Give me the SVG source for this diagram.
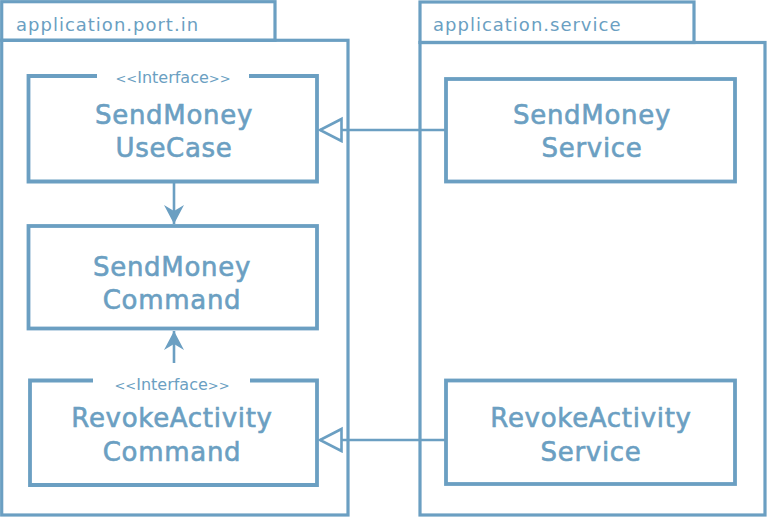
<svg xmlns="http://www.w3.org/2000/svg" width="768" height="518" viewBox="0 0 768 518">
<style>
.pkg{fill:none;stroke:#6b9fc2;stroke-width:3.2}
.box{fill:none;stroke:#6b9fc2;stroke-width:3.8}
.pl{font-family:"DejaVu Sans",sans-serif;font-size:18px;letter-spacing:1px;fill:#6b9fc2}
.st{font-family:"DejaVu Sans",sans-serif;font-size:16px;fill:#6b9fc2;text-anchor:middle}
.ch{font-size:13px}
.nm{font-family:"DejaVu Sans",sans-serif;font-size:26px;fill:#6b9fc2;stroke:#6b9fc2;stroke-width:0.6;text-anchor:middle;letter-spacing:0.7px}
.ln{fill:none;stroke:#6b9fc2;stroke-width:2.6}
</style>
<defs>
<marker id="tri" markerUnits="userSpaceOnUse" markerWidth="26" markerHeight="28" refX="23" refY="13" orient="auto" viewBox="0 0 26 28">
<path d="M1.5,2 L23,13 L1.5,24 Z" fill="#fff" stroke="#6b9fc2" stroke-width="2.6"/>
</marker>
<marker id="arr" markerUnits="userSpaceOnUse" markerWidth="20" markerHeight="20" refX="19" refY="10" orient="auto" viewBox="0 0 20 20">
<path d="M0,0 L19,10 L0,20 L6,10 Z" fill="#6b9fc2"/>
</marker>
</defs>
<g id="pkg-port-in">
<rect class="pkg" x="1.7" y="1.7" width="273.3" height="38.6"/>
<rect class="pkg" x="1.7" y="40.3" width="346.3" height="474.7"/>
<text class="pl" x="16" y="31">application.port.in</text>
</g>
<g id="pkg-service">
<rect class="pkg" x="420" y="2" width="274" height="40.5"/>
<rect class="pkg" x="420" y="42.5" width="345" height="472.5"/>
<text class="pl" x="433" y="31">application.service</text>
</g>
<g id="connectors">
<line class="ln" x1="446" y1="130" x2="320" y2="130" marker-end="url(#tri)"/>
<line class="ln" x1="446" y1="440" x2="320" y2="440" marker-end="url(#tri)"/>
<line class="ln" x1="174" y1="183" x2="174" y2="224" marker-end="url(#arr)"/>
<line class="ln" x1="174" y1="363" x2="174" y2="331" marker-end="url(#arr)"/>
</g>
<g id="node-sendmoney-usecase">
<path class="box" d="M97,76 H28.5 V181.5 H317 V76 H249"/>
<text class="st" x="173" y="83"><tspan class="ch">&lt;&lt;</tspan>Interface<tspan class="ch">&gt;&gt;</tspan></text>
<text class="nm" x="174" y="124">SendMoney</text>
<text class="nm" x="174" y="157">UseCase</text>
</g>
<g id="node-sendmoney-command">
<rect class="box" x="28.5" y="226" width="288.5" height="102.5"/>
<text class="nm" x="172" y="276">SendMoney</text>
<text class="nm" x="172" y="309">Command</text>
</g>
<g id="node-revokeactivity-command">
<path class="box" d="M93,380.5 H30 V485 H317 V380.5 H250"/>
<text class="st" x="172" y="390"><tspan class="ch">&lt;&lt;</tspan>Interface<tspan class="ch">&gt;&gt;</tspan></text>
<text class="nm" x="172" y="427">RevokeActivity</text>
<text class="nm" x="172" y="461">Command</text>
</g>
<g id="node-sendmoney-service">
<rect class="box" x="446" y="79" width="289" height="102.5"/>
<text class="nm" x="592" y="124">SendMoney</text>
<text class="nm" x="592" y="157">Service</text>
</g>
<g id="node-revokeactivity-service">
<rect class="box" x="446" y="380.5" width="289" height="103.5"/>
<text class="nm" x="591" y="427">RevokeActivity</text>
<text class="nm" x="591" y="461">Service</text>
</g>
</svg>
